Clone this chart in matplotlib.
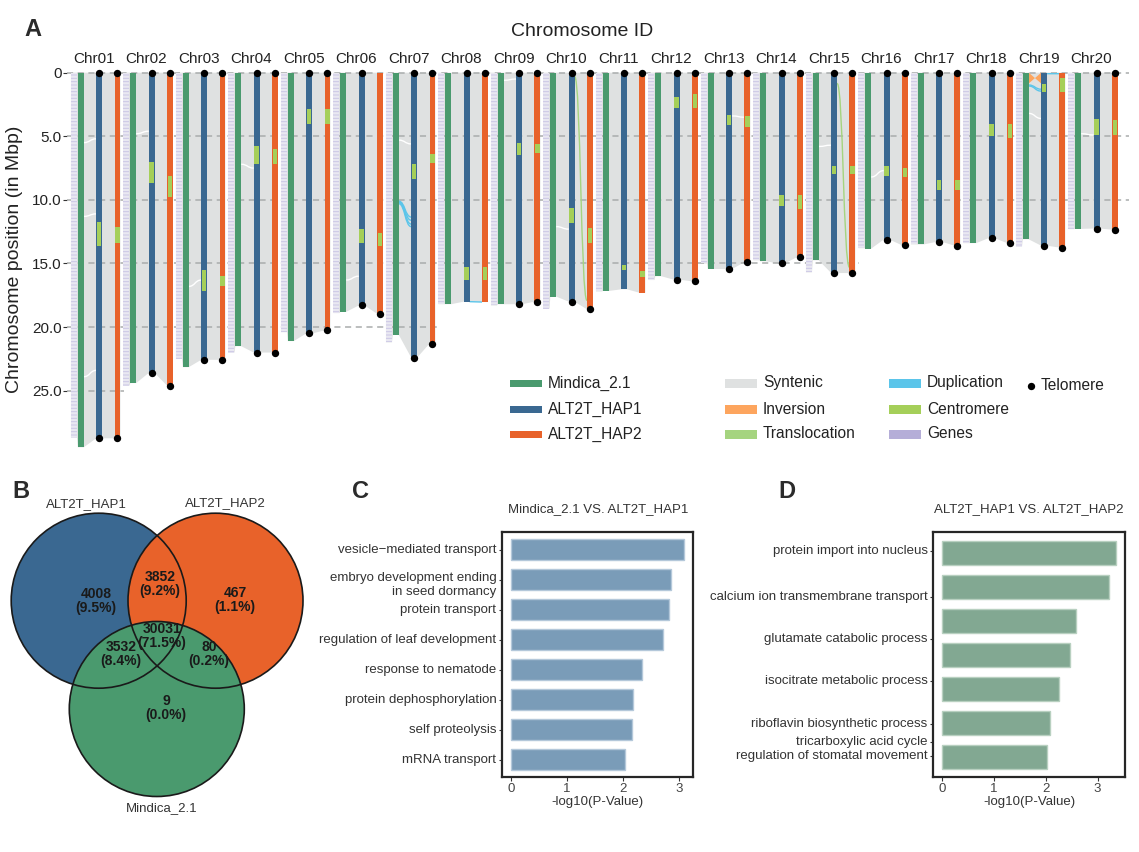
import numpy as np
import matplotlib.pyplot as plt
from matplotlib.patches import Rectangle, Circle, Polygon, PathPatch
from matplotlib.path import Path
import matplotlib.transforms as mtransforms

plt.rcParams['font.family'] = ['Liberation Sans', 'DejaVu Sans']
plt.rcParams['hatch.linewidth'] = 0.7

# ---------------- datos ----------------
chr_ids = [f'Chr{i:02d}' for i in range(1, 21)]

# longitudes (Mbp)
green_len  = [29.45, 24.4, 23.15, 21.5, 21.1, 18.8, 20.6, 18.2, 18.2, 17.6,
              17.16, 16.0, 15.43, 14.83, 14.75, 13.83, 13.5, 13.4, 13.1, 12.28]
blue_len   = [28.74, 23.6, 22.57, 22.0, 20.5, 18.3, 22.4, 18.0, 18.2, 18.0,
              17.03, 16.27, 15.43, 15.0, 15.75, 13.12, 13.3, 13.0, 13.6, 12.25]
orange_len = [28.74, 24.6, 22.57, 22.0, 20.26, 18.95, 21.3, 18.03, 18.0, 18.6,
              17.3, 16.4, 14.9, 14.5, 15.75, 13.57, 13.6, 13.4, 13.75, 12.34]
gene_len   = [28.7, 24.6, 22.5, 22.0, 20.4, 18.9, 21.2, 18.2, 18.3, 18.55,
              17.2, 16.3, 15.0, 14.75, 15.7, 13.8, 13.5, 13.4, 13.7, 12.3]

# centromeros (inicio, fin) en HAP1 y HAP2
cen_blue = [(11.7, 13.6), (7.06, 8.7), (15.5, 17.2), (5.8, 7.2), (2.86, 4.07),
            (12.3, 13.4), (7.2, 8.35), (15.3, 16.3), (5.56, 6.46), (10.6, 11.8),
            (15.1, 15.5), (1.9, 2.8), (3.3, 4.1), (9.6, 10.5), (7.3, 8.0),
            (7.3, 8.1), (8.45, 9.2), (4.0, 5.0), (0.9, 1.5), (3.67, 4.9)]
cen_orange = [(12.1, 13.4), (8.1, 9.8), (16.0, 16.8), (6.0, 7.2), (2.86, 4.07),
              (12.6, 13.6), (6.4, 7.1), (15.3, 16.3), (5.6, 6.3), (12.2, 13.4),
              (15.6, 16.1), (1.7, 2.8), (3.4, 4.25), (9.6, 10.7), (7.3, 8.0),
              (7.5, 8.2), (8.45, 9.2), (4.0, 5.1), (0.45, 1.5), (3.7, 4.9)]

# telomeros presentes (arriba / abajo)
tel_top_blue   = [1]*18 + [0, 1]
tel_top_orange = [1, 1, 1, 1, 1, 0] + [1]*12 + [0, 1]
tel_bot_blue   = [1]*7 + [0, 1, 1, 0] + [1]*9
tel_bot_orange = [1]*7 + [0, 1, 1, 0] + [1]*9

# eventos estructurales: (cromosoma, par, y_izq, y_der)  par 0: Mindica->HAP1, 1: HAP1->HAP2
duplications = [(6, 0, 10.1, 11.35), (6, 0, 10.15, 11.6), (6, 0, 10.2, 11.9), (6, 0, 10.3, 12.1),
                (7, 1, 18.0, 18.03), (18, 0, 0.97, 1.3), (18, 0, 1.05, 1.45), (18, 1, 0.08, 0.08)]
translocations = [(9, 1, 0.3, 17.9), (14, 1, 0.85, 15.3)]
inversions = [(18, 0, 0.0, 0.85)]
white_gaps = [(0, 0, 5.5, 5.2), (0, 0, 11.3, 11.1), (0, 0, 23.9, 23.4), (1, 0, 4.8, 4.6),
              (2, 0, 16.8, 16.3), (3, 0, 7.2, 7.5), (5, 0, 16.3, 16.0), (6, 0, 5.3, 5.6),
              (8, 0, 0.6, 0.5), (9, 0, 12.1, 12.3), (12, 1, 3.4, 3.5), (14, 0, 5.8, 5.7),
              (15, 0, 8.2, 7.7), (18, 0, 3.2, 3.6), (19, 0, 4.8, 4.9)]

# Venn
venn_labels = ['ALT2T_HAP1', 'ALT2T_HAP2', 'Mindica_2.1']
venn_counts = {'100': 4008, '110': 3852, '010': 467, '111': 30031, '101': 3532, '011': 80, '001': 9}
venn_pct    = {'100': 9.5, '110': 9.2, '010': 1.1, '111': 71.5, '101': 8.4, '011': 0.2, '001': 0.0}

# GO panel C
c_terms = ['vesicle\u2212mediated transport', 'embryo development ending\nin seed dormancy',
           'protein transport', 'regulation of leaf development', 'response to nematode',
           'protein dephosphorylation', 'self proteolysis', 'mRNA transport']
c_vals = [3.09, 2.85, 2.82, 2.71, 2.34, 2.17, 2.16, 2.04]

# GO panel D
d_terms = ['protein import into nucleus', 'calcium ion transmembrane transport',
           'glutamate catabolic process', 'isocitrate metabolic process',
           'riboflavin biosynthetic process', 'tricarboxylic acid cycle',
           'regulation of stomatal movement']
d_vals = [3.35, 3.23, 2.59, 2.46, 2.25, 2.09, 2.03]
d_label_y = [-0.05, 1.3, 2.54, 3.76, 5.02, 5.56, 5.96]

# ---------------- estilos ----------------
C_GREEN, C_BLUE, C_ORANGE = '#4a9a6e', '#3a6891', '#e8622a'
C_SYN, C_INV, C_TRA = '#dfe1e1', '#fda55e', '#a5d47f'
C_DUP, C_CEN, C_GEN = '#5bc5ea', '#a5cf59', '#b5aed8'
TXT = '#222222'

W, H = 1139, 852
fig = plt.figure(figsize=(W / 100, H / 100), dpi=100)


def px_axes(l, t, r, b):
    return fig.add_axes([l / W, 1 - b / H, (r - l) / W, (b - t) / H])


def curve(ax, x0, y0, x1, y1, color, lw, z=2.6):
    xm = (x0 + x1) / 2
    p = Path([(x0, y0), (xm, y0), (xm, y1), (x1, y1)],
             [Path.MOVETO, Path.CURVE4, Path.CURVE4, Path.CURVE4])
    ax.add_patch(PathPatch(p, fc='none', ec=color, lw=lw, zorder=z))


# ---------------- panel A ----------------
axA = px_axes(67, 70, 1125, 450)
axA.set_xlim(-0.133, 20.02)
axA.set_ylim(29.66, -0.21)

OFF_GENE, OFF_G, OFF_B, OFF_O = 0.0, 0.13, 0.48, 0.828
BW, GW, CW = 0.112, 0.115, 0.088
hb = BW / 2
pair_x = [(OFF_G + hb, OFF_B - hb), (OFF_B + hb, OFF_O - hb)]

for i in range(20):
    g, b, o, gn = green_len[i], blue_len[i], orange_len[i], gene_len[i]
    verts = [(i - GW / 2, 0), (i + OFF_O + hb, 0),
             (i + OFF_O + hb, o), (i + OFF_O - hb, o),
             (i + OFF_B + hb, b), (i + OFF_B - hb, b),
             (i + OFF_G + hb, g), (i + OFF_G - hb, g),
             (i + GW / 2, gn), (i - GW / 2, gn)]
    axA.add_patch(Polygon(verts, closed=True, fc=C_SYN, ec='none', zorder=1))

# huecos de sintenia
for c, pr, y0, y1 in white_gaps:
    x0, x1 = pair_x[pr]
    curve(axA, c + x0, y0, c + x1, y1, 'white', 1.0, z=1.5)

# líneas de referencia
max_len = np.max([green_len, blue_len, orange_len, gene_len], axis=0)
yt = [0, 5, 10, 15, 20, 25]
for t in yt:
    idx = np.where(max_len >= t)[0]
    x_end = 20.1 if idx.max() == 19 else idx.max() + 0.96
    axA.plot([-0.133, x_end], [t, t], color='#a9acac', lw=1.1,
             ls=(0, (4, 3)), zorder=2, clip_on=False)

# eventos
for c, pr, y0, y1 in duplications:
    x0, x1 = pair_x[pr]
    curve(axA, c + x0, y0, c + x1, y1, C_DUP, 1.0)
for c, pr, y0, y1 in translocations:
    x0, x1 = pair_x[pr]
    curve(axA, c + x0, y0, c + x1, y1, C_TRA, 1.0)
for c, pr, y0, y1 in inversions:
    x0, x1 = pair_x[pr]
    axA.add_patch(Polygon([(c + x0, y0), (c + x1, y1), (c + x1, y0), (c + x0, y1)],
                          closed=True, fc=C_INV, ec='none', zorder=2.6))

# genes, cromosomas, centromeros
for i in range(20):
    axA.add_patch(Rectangle((i - GW / 2, 0), GW, gene_len[i], fc='#e9e8f1',
                            ec='#cbc6e6', lw=0, hatch='-----', zorder=2.2))
    for off, ln, col in [(OFF_G, green_len[i], C_GREEN), (OFF_B, blue_len[i], C_BLUE),
                         (OFF_O, orange_len[i], C_ORANGE)]:
        axA.add_patch(Rectangle((i + off - hb, 0), BW, ln, fc=col, ec='none', zorder=3))
    for off, (s, e) in [(OFF_B, cen_blue[i]), (OFF_O, cen_orange[i])]:
        axA.add_patch(Rectangle((i + off - CW / 2, s), CW, e - s, fc=C_CEN, ec='none', zorder=4))

# telomeros
idx = np.arange(20)
for off, flags, ys in [(OFF_B, tel_top_blue, np.zeros(20)), (OFF_O, tel_top_orange, np.zeros(20)),
                       (OFF_B, tel_bot_blue, np.array(blue_len)),
                       (OFF_O, tel_bot_orange, np.array(orange_len))]:
    m = np.array(flags, dtype=bool)
    axA.scatter(idx[m] + off, ys[m], s=28, color='black', zorder=5, clip_on=False, lw=0)

for sp in axA.spines.values():
    sp.set_visible(False)
axA.set_yticks(yt)
axA.set_yticklabels(['0', '5.0', '10.0', '15.0', '20.0', '25.0'])
axA.tick_params(axis='y', length=3, width=0.8, color='#333333', labelsize=11,
                labelcolor=TXT, pad=1)
axA.set_xticks(idx + 0.38)
axA.set_xticklabels(chr_ids)
axA.xaxis.tick_top()
axA.tick_params(axis='x', length=0, labelsize=11, labelcolor=TXT, pad=3)

fig.text(582 / W, 1 - 32 / H, 'Chromosome ID', ha='center', va='center', fontsize=14, color=TXT)
fig.text(15 / W, 1 - 259 / H, 'Chromosome position (in Mbp)', ha='center', va='center',
         rotation=90, fontsize=14, color=TXT)

# ---------------- capa superpuesta (px) ----------------
ov = fig.add_axes([0, 0, 1, 1])
ov.set_xlim(0, W)
ov.set_ylim(H, 0)
ov.axis('off')

# leyenda del panel A
leg_cols = [
    (510, 7, [('Mindica_2.1', C_GREEN), ('ALT2T_HAP1', C_BLUE), ('ALT2T_HAP2', C_ORANGE)]),
    (725, 9, [('Syntenic', C_SYN), ('Inversion', C_INV), ('Translocation', C_TRA)]),
    (889, 9, [('Duplication', C_DUP), ('Centromere', C_CEN), ('Genes', C_GEN)]),
]
rows_y = [383, 409, 434]
for x0, hgt, items in leg_cols:
    for (lab, col), yy in zip(items, rows_y):
        ov.add_patch(Rectangle((x0, yy - hgt / 2), 32, hgt, fc=col, ec='none'))
        ov.text(x0 + 38, yy, lab, ha='left', va='center', fontsize=11.2, color=TXT)
ov.scatter([1031], [386], s=28, color='black', lw=0)
ov.text(1041, 386, 'Telomere', ha='left', va='center', fontsize=11.2, color=TXT)

# ---------------- panel B: Venn ----------------
R = 87.5
centers = [(98.7, 600.7), (215.5, 600.7), (156.8, 709.0)]
for (cx, cy), col in zip(centers, [C_BLUE, C_ORANGE, C_GREEN]):
    ov.add_patch(Circle((cx, cy), R, fc=col, ec='none'))
for cx, cy in centers:
    ov.add_patch(Circle((cx, cy), R, fc='none', ec='#1a1a1a', lw=1.2))
venn_pos = {'100': (96, 601), '110': (160, 584), '010': (235, 600), '111': (162, 636),
            '101': (121, 654), '011': (209, 654), '001': (166, 708)}
for k, (tx, ty) in venn_pos.items():
    ov.text(tx, ty, f'{venn_counts[k]}\n({venn_pct[k]:.1f}%)', ha='center', va='center',
            fontsize=10, fontweight='bold', color='#1a1a1a', linespacing=0.95)
for lab, (tx, ty) in zip(venn_labels, [(86.7, 504), (225.7, 503), (162, 808)]):
    ov.text(tx, ty, lab, ha='center', va='center', fontsize=9.5, color='#333333')

# ---------------- panels C y D ----------------
def go_panel(box, terms, vals, label_y, xlim, ylim, color, edge, title, tcx):
    ax = px_axes(*box)
    pos = np.arange(len(vals))
    ax.barh(pos, vals, height=0.69, color=color, edgecolor=edge, lw=1.0, zorder=2)
    ax.set_xlim(*xlim)
    ax.set_ylim(*ylim)
    ax.set_xticks([0, 1, 2, 3])
    ax.tick_params(axis='x', length=3, width=0.8, color='#333333', labelsize=9.5,
                   labelcolor='#444444', pad=1)
    ax.set_yticks(label_y)
    ax.set_yticklabels([])
    ax.tick_params(axis='y', length=2.5, width=0.8, color='#333333')
    for sp in ax.spines.values():
        sp.set_linewidth(1.6)
        sp.set_color('#262626')
    ax.set_xlabel('-log10(P-Value)', fontsize=9.5, color='#333333', labelpad=1)
    tr = mtransforms.blended_transform_factory(ax.transAxes, ax.transData)
    xoff = -5.5 / (box[2] - box[0])
    for t, y in zip(terms, label_y):
        if '\n' in t:
            ax.text(xoff, y - 0.25, t, ha='right', va='top', fontsize=9.5,
                    color='#333333', transform=tr, linespacing=1.15)
        else:
            ax.text(xoff, y, t, ha='right', va='center', fontsize=9.5,
                    color='#333333', transform=tr)
    fig.text(tcx / W, 1 - 509 / H, title, ha='center', va='center', fontsize=9.5, color='#333333')
    return ax


go_panel((502, 532, 693, 777), c_terms, c_vals, list(range(len(c_vals))),
         (-0.16, 3.25), (7.58, -0.59), '#7a9cb8', '#b4c8da',
         'Mindica_2.1 VS. ALT2T_HAP1', 598)
go_panel((933, 532, 1125, 777), d_terms, d_vals, d_label_y,
         (-0.18, 3.53), (6.58, -0.61), '#82a892', '#b8d0c0',
         'ALT2T_HAP1 VS. ALT2T_HAP2', 1029)

# letras de los paneles
for lab, x, y in [('A', 24, 29), ('B', 12, 491), ('C', 352, 491), ('D', 778, 491)]:
    fig.text(x / W, 1 - y / H, lab, ha='left', va='center', fontsize=17,
             fontweight='bold', color='#2b2b2b')

fig.savefig('out.png', dpi=100)
